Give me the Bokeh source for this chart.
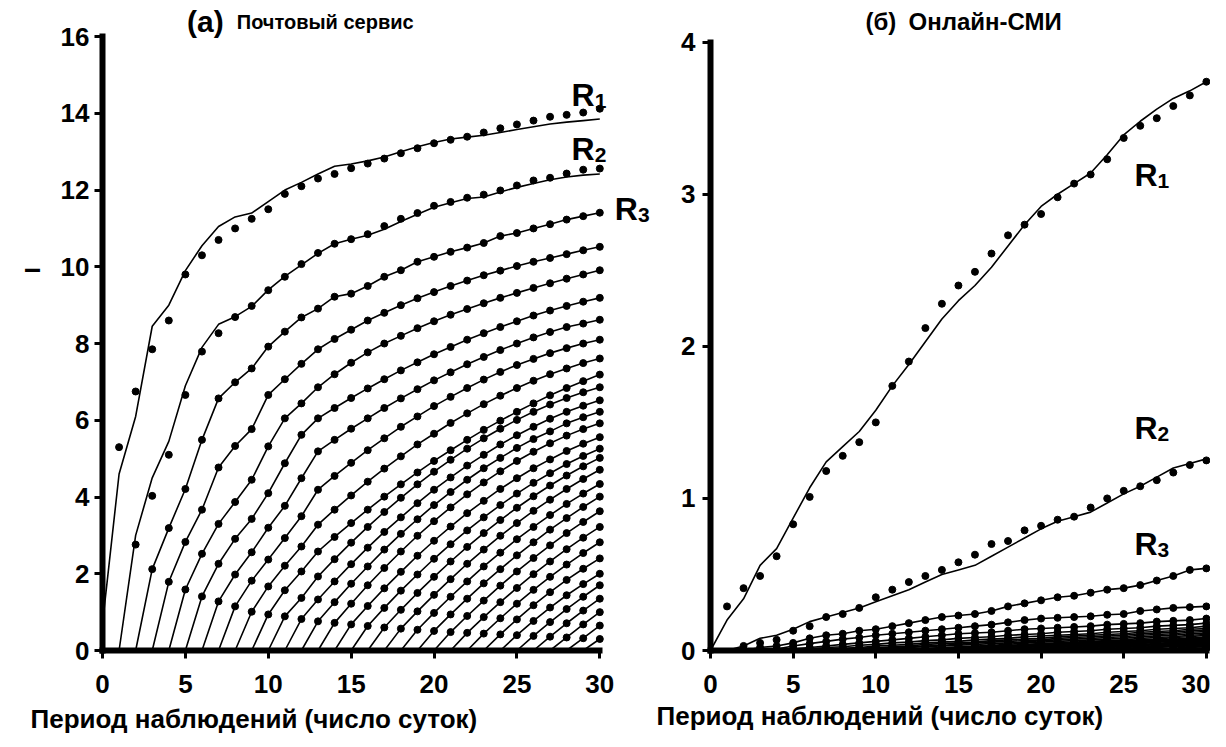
from bokeh.plotting import figure
from bokeh.models import Range1d, FixedTicker, Title
from bokeh.layouts import row
from bokeh.embed import file_html
from bokeh.resources import INLINE
from bokeh.core.properties import value

FONT = "Liberation Sans"

x_ticks = [0, 5, 10, 15, 20, 25, 30]
mail_y_ticks = [0, 2, 4, 6, 8, 10, 12, 14, 16]
media_y_ticks = [0, 1, 2, 3, 4]

# ---------------- (а) Почтовый сервис ----------------
mail_r1_line = [0.7, 4.6, 6.1, 8.45, 9.0, 9.9, 10.55, 11.05, 11.3, 11.4, 11.7, 12.0, 12.2, 12.42, 12.62,
                12.68, 12.76, 12.86, 13.0, 13.13, 13.24, 13.33, 13.38, 13.43, 13.5, 13.58, 13.65, 13.72,
                13.77, 13.81, 13.85]                                   # days 0..30
mail_r1_dots = [5.3, 6.75, 7.85, 8.6, 9.8, 10.3, 10.7, 11.0, 11.25, 11.5, 11.9, 12.1, 12.3, 12.42, 12.57,
                12.69, 12.82, 12.96, 13.09, 13.22, 13.31, 13.39, 13.5, 13.61, 13.71, 13.81, 13.91, 13.96,
                14.02, 14.12]                                          # days 1..30
mail_r2_line = [0, 3.0, 4.5, 5.45, 6.9, 7.9, 8.5, 8.7, 8.97, 9.4, 9.75, 10.05, 10.35, 10.6, 10.72, 10.82,
                10.98, 11.18, 11.37, 11.55, 11.67, 11.78, 11.82, 11.95, 12.07, 12.17, 12.27, 12.34, 12.39,
                12.42]                                                 # days 1..30
mail_r2_dots = [2.76, 4.03, 5.1, 6.66, 7.79, 8.27, 8.69, 8.98, 9.39, 9.74, 10.07, 10.36, 10.6, 10.72, 10.85,
                11.06, 11.25, 11.4, 11.59, 11.69, 11.8, 11.88, 11.99, 12.12, 12.25, 12.32, 12.43, 12.53,
                12.56]                                                 # days 2..30
# R_k (k >= 3): values for days k..30 (model line starts from 0 at day k-1)
mail_r03 = [2.12, 3.19, 4.21, 5.49, 6.57, 6.99, 7.35, 7.92, 8.31, 8.68, 8.91, 9.22, 9.3, 9.5, 9.74, 9.91,
            10.13, 10.26, 10.39, 10.5, 10.62, 10.8, 10.88, 11.0, 11.11, 11.23, 11.32, 11.41]
mail_r04 = [1.79, 2.83, 3.67, 4.77, 5.33, 5.77, 6.66, 7.07, 7.47, 7.85, 8.12, 8.36, 8.6, 8.8, 9.0, 9.18,
            9.34, 9.5, 9.64, 9.78, 9.9, 10.02, 10.13, 10.23, 10.33, 10.43, 10.52]
mail_r05 = [1.59, 2.52, 3.3, 3.87, 4.45, 5.32, 6.05, 6.44, 6.86, 7.2, 7.5, 7.77, 8.0, 8.2, 8.4, 8.58, 8.75,
            8.9, 9.05, 9.19, 9.32, 9.45, 9.57, 9.69, 9.8, 9.91]
mail_r06 = [1.41, 2.26, 2.91, 3.43, 4.1, 4.88, 5.62, 6.05, 6.32, 6.58, 6.83, 7.07, 7.3, 7.51, 7.72, 7.91,
            8.1, 8.27, 8.43, 8.58, 8.73, 8.86, 8.98, 9.09, 9.19]
mail_r07 = [1.28, 1.98, 2.56, 3.2, 3.77, 4.49, 5.19, 5.49, 5.78, 6.05, 6.32, 6.57, 6.81, 7.04, 7.25, 7.46,
            7.65, 7.83, 8.0, 8.16, 8.3, 8.43, 8.52, 8.62]
mail_r08 = [1.15, 1.82, 2.37, 2.93, 3.5, 4.19, 4.55, 4.89, 5.22, 5.53, 5.83, 6.1, 6.37, 6.61, 6.84, 7.06,
            7.26, 7.44, 7.6, 7.75, 7.88, 8.0, 8.1]
mail_r09 = [1.01, 1.67, 2.21, 2.71, 3.28, 3.67, 4.04, 4.4, 4.74, 5.06, 5.37, 5.65, 5.93, 6.18, 6.42, 6.64,
            6.84, 7.03, 7.2, 7.35, 7.49, 7.61]
mail_r10 = [0.94, 1.57, 2.06, 2.58, 2.96, 3.32, 3.67, 4.01, 4.33, 4.64, 4.94, 5.22, 5.49, 5.75, 5.99, 6.22,
            6.44, 6.65, 6.84, 7.02, 7.19]
mail_r11 = [0.89, 1.37, 1.93, 2.38, 2.81, 3.22, 3.61, 3.98, 4.33, 4.66, 4.97, 5.26, 5.53, 5.78, 6.01, 6.22,
            6.41, 6.58, 6.73, 6.86]
mail_r12 = [0.82, 1.33, 1.8, 2.25, 2.68, 3.09, 3.47, 3.84, 4.19, 4.51, 4.82, 5.1, 5.37, 5.61, 5.83, 6.04,
            6.22, 6.38, 6.52]
mail_r13 = [0.76, 1.26, 1.74, 2.19, 2.63, 3.04, 3.42, 3.79, 4.13, 4.45, 4.75, 5.02, 5.28, 5.51, 5.71, 5.92,
            6.08, 6.22]
mail_r14 = [0.72, 1.22, 1.7, 2.15, 2.58, 2.99, 3.37, 3.73, 4.07, 4.38, 4.67, 4.94, 5.18, 5.4, 5.6, 5.77, 5.92]
mail_r15 = [0.68, 1.16, 1.62, 2.05, 2.47, 2.86, 3.23, 3.58, 3.9, 4.21, 4.49, 4.75, 4.98, 5.2, 5.39, 5.56]
mail_r16 = [0.64, 1.11, 1.56, 1.98, 2.39, 2.77, 3.13, 3.47, 3.79, 4.09, 4.37, 4.62, 4.86, 5.07, 5.26]
mail_r17 = [0.6, 1.06, 1.5, 1.92, 2.32, 2.7, 3.06, 3.4, 3.72, 4.02, 4.3, 4.56, 4.8, 5.02]
mail_r18 = [0.57, 1.02, 1.45, 1.86, 2.26, 2.63, 2.99, 3.32, 3.64, 3.93, 4.21, 4.47, 4.71]
mail_r19 = [0.54, 0.98, 1.4, 1.8, 2.19, 2.55, 2.9, 3.22, 3.53, 3.82, 4.09, 4.34]
mail_r20 = [0.51, 0.94, 1.35, 1.75, 2.12, 2.48, 2.82, 3.15, 3.45, 3.74, 4.01]
mail_r21 = [0.48, 0.9, 1.3, 1.69, 2.06, 2.41, 2.74, 3.06, 3.35, 3.63]
mail_r22 = [0.46, 0.87, 1.26, 1.63, 1.99, 2.32, 2.64, 2.94, 3.22]
mail_r23 = [0.44, 0.84, 1.22, 1.58, 1.92, 2.24, 2.54, 2.82]
mail_r24 = [0.42, 0.81, 1.18, 1.52, 1.84, 2.13, 2.4]
mail_r25 = [0.4, 0.77, 1.12, 1.44, 1.73, 2.0]
mail_r26 = [0.38, 0.74, 1.08, 1.4, 1.7]
mail_r27 = [0.36, 0.71, 1.04, 1.35]
mail_r28 = [0.34, 0.68, 1.0]
mail_r29 = [0.32, 0.65]
mail_r30 = [0.3]

# ---------------- (б) Онлайн-СМИ ----------------
media_r1_line = [0, 0.2, 0.34, 0.56, 0.67, 0.87, 1.07, 1.24, 1.34, 1.44, 1.58, 1.74, 1.88, 2.03, 2.18, 2.3,
                 2.4, 2.52, 2.66, 2.8, 2.92, 3.0, 3.07, 3.14, 3.26, 3.39, 3.48, 3.56, 3.63, 3.68, 3.74]
media_r1_dots = [0.29, 0.41, 0.49, 0.62, 0.83, 1.01, 1.18, 1.28, 1.37, 1.5, 1.74, 1.9, 2.12, 2.28, 2.4,
                 2.49, 2.61, 2.73, 2.8, 2.87, 2.98, 3.07, 3.13, 3.23, 3.37, 3.45, 3.5, 3.58, 3.65, 3.74]
media_r2_line = [0, 0.03, 0.08, 0.1, 0.14, 0.19, 0.22, 0.25, 0.28, 0.32, 0.36, 0.4, 0.45, 0.5, 0.53, 0.56,
                 0.62, 0.68, 0.74, 0.8, 0.85, 0.88, 0.91, 0.97, 1.03, 1.08, 1.14, 1.2, 1.23, 1.26]
media_r2_dots = [0.03, 0.05, 0.07, 0.13, 0.16, 0.22, 0.24, 0.28, 0.35, 0.4, 0.45, 0.49, 0.53, 0.58, 0.63,
                 0.7, 0.72, 0.79, 0.82, 0.86, 0.88, 0.94, 1.0, 1.05, 1.08, 1.12, 1.17, 1.22, 1.25]
media_r03 = [0.02, 0.03, 0.05, 0.08, 0.1, 0.11, 0.13, 0.14, 0.16, 0.18, 0.2, 0.22, 0.23, 0.24, 0.26, 0.29,
             0.31, 0.33, 0.35, 0.36, 0.38, 0.4, 0.41, 0.43, 0.46, 0.49, 0.53, 0.54]
media_r04 = [0.01, 0.03, 0.045, 0.06, 0.075, 0.085, 0.1, 0.11, 0.12, 0.13, 0.14, 0.15, 0.16, 0.17, 0.185,
             0.2, 0.21, 0.215, 0.22, 0.225, 0.235, 0.24, 0.26, 0.27, 0.28, 0.285, 0.29]
media_r05 = [0.01, 0.02, 0.03, 0.04, 0.05, 0.06, 0.07, 0.08, 0.09, 0.1, 0.11, 0.115, 0.12, 0.13, 0.14,
             0.145, 0.15, 0.155, 0.16, 0.17, 0.175, 0.18, 0.19, 0.195, 0.2, 0.21]
media_r06 = [0.01, 0.02, 0.025, 0.035, 0.04, 0.05, 0.055, 0.065, 0.07, 0.08, 0.085, 0.09, 0.1, 0.105, 0.11,
             0.12, 0.125, 0.13, 0.14, 0.145, 0.15, 0.16, 0.165, 0.17, 0.18]
media_r07 = [0.01, 0.015, 0.02, 0.03, 0.035, 0.04, 0.05, 0.055, 0.06, 0.07, 0.075, 0.08, 0.09, 0.095, 0.1,
             0.105, 0.11, 0.12, 0.125, 0.13, 0.14, 0.145, 0.15, 0.16]
media_r08 = [0.01, 0.015, 0.02, 0.025, 0.03, 0.04, 0.045, 0.05, 0.055, 0.065, 0.07, 0.075, 0.08, 0.09,
             0.095, 0.1, 0.105, 0.11, 0.12, 0.125, 0.13, 0.14, 0.145]
media_r09 = [0.01, 0.015, 0.02, 0.025, 0.03, 0.035, 0.04, 0.05, 0.055, 0.06, 0.065, 0.07, 0.08, 0.085,
             0.09, 0.095, 0.1, 0.11, 0.115, 0.12, 0.13, 0.135]
media_r10 = [0.01, 0.015, 0.02, 0.025, 0.03, 0.035, 0.04, 0.045, 0.05, 0.055, 0.065, 0.07, 0.075, 0.08,
             0.085, 0.09, 0.1, 0.105, 0.11, 0.12, 0.125]
media_r11 = [0.005, 0.01, 0.015, 0.02, 0.025, 0.03, 0.035, 0.04, 0.05, 0.055, 0.06, 0.065, 0.07, 0.075,
             0.08, 0.09, 0.095, 0.1, 0.11, 0.115]
media_r12 = [0.005, 0.01, 0.015, 0.02, 0.025, 0.03, 0.035, 0.04, 0.045, 0.05, 0.055, 0.06, 0.065, 0.07,
             0.08, 0.085, 0.09, 0.1, 0.105]
media_r13 = [0.005, 0.01, 0.015, 0.02, 0.025, 0.03, 0.035, 0.04, 0.045, 0.05, 0.055, 0.06, 0.065, 0.07,
             0.075, 0.085, 0.09, 0.1]
media_r14 = [0.005, 0.01, 0.015, 0.02, 0.025, 0.03, 0.035, 0.04, 0.045, 0.05, 0.055, 0.06, 0.065, 0.07,
             0.075, 0.08, 0.09]
media_r15 = [0.005, 0.01, 0.015, 0.02, 0.025, 0.03, 0.035, 0.04, 0.045, 0.05, 0.055, 0.06, 0.065, 0.07,
             0.08, 0.085]
media_r16 = [0.005, 0.01, 0.015, 0.02, 0.025, 0.03, 0.035, 0.04, 0.045, 0.05, 0.055, 0.06, 0.07, 0.075, 0.08]
media_r17 = [0.005, 0.01, 0.015, 0.02, 0.025, 0.03, 0.035, 0.04, 0.045, 0.05, 0.06, 0.065, 0.07, 0.075]
media_r18 = [0.005, 0.01, 0.015, 0.02, 0.025, 0.03, 0.035, 0.04, 0.045, 0.055, 0.06, 0.065, 0.07]
media_r19 = [0.005, 0.01, 0.015, 0.02, 0.025, 0.03, 0.035, 0.04, 0.045, 0.055, 0.06, 0.065]
media_r20 = [0.005, 0.01, 0.015, 0.02, 0.025, 0.03, 0.035, 0.045, 0.05, 0.055, 0.06]
media_r21 = [0.005, 0.01, 0.015, 0.02, 0.025, 0.03, 0.04, 0.045, 0.05, 0.055]
media_r22 = [0.005, 0.01, 0.015, 0.02, 0.025, 0.035, 0.04, 0.045, 0.05]
media_r23 = [0.005, 0.01, 0.015, 0.02, 0.03, 0.035, 0.04, 0.045]
media_r24 = [0.005, 0.01, 0.015, 0.025, 0.03, 0.035, 0.04]
media_r25 = [0.005, 0.01, 0.02, 0.025, 0.03, 0.035]
media_r26 = [0.005, 0.01, 0.015, 0.025, 0.03]
media_r27 = [0.005, 0.01, 0.02, 0.025]
media_r28 = [0.005, 0.01, 0.02]
media_r29 = [0.005, 0.015]
media_r30 = [0.01]

mail_rest = [mail_r03, mail_r04, mail_r05, mail_r06, mail_r07, mail_r08, mail_r09, mail_r10, mail_r11,
             mail_r12, mail_r13, mail_r14, mail_r15, mail_r16, mail_r17, mail_r18, mail_r19, mail_r20,
             mail_r21, mail_r22, mail_r23, mail_r24, mail_r25, mail_r26, mail_r27, mail_r28, mail_r29,
             mail_r30]
media_rest = [media_r03, media_r04, media_r05, media_r06, media_r07, media_r08, media_r09, media_r10,
              media_r11, media_r12, media_r13, media_r14, media_r15, media_r16, media_r17, media_r18,
              media_r19, media_r20, media_r21, media_r22, media_r23, media_r24, media_r25, media_r26,
              media_r27, media_r28, media_r29, media_r30]

x_title = "Период наблюдений (число суток)"


def build(r1_line, r1_dots, r2_line, r2_dots, rest):
    lx = [list(range(0, 31)), list(range(1, 31))]
    ly = [r1_line, r2_line]
    dx = list(range(1, 31)) + list(range(2, 31))
    dy = list(r1_dots) + list(r2_dots)
    for i, vals in enumerate(rest):
        k = i + 3
        days = list(range(k, 31))
        lx.append([k - 1] + days)
        ly.append([0] + list(vals))
        dx += days
        dy += list(vals)
    return lx, ly, dx, dy


def style(p, yticks, ystand):
    p.grid.visible = False
    p.outline_line_color = None
    p.background_fill_color = "white"
    p.border_fill_color = "white"
    for ax in (p.xaxis[0], p.yaxis[0]):
        ax.axis_line_width = 6
        ax.axis_line_color = "black"
        ax.axis_line_cap = "square"
        ax.major_tick_line_width = 3
        ax.major_tick_line_color = "black"
        ax.major_tick_out = 8
        ax.major_tick_in = 0
        ax.minor_tick_line_color = None
        ax.major_label_text_font = FONT
        ax.major_label_text_font_style = "bold"
        ax.major_label_text_font_size = "26px"
        ax.major_label_text_color = "black"
    p.xaxis.ticker = FixedTicker(ticks=x_ticks)
    p.xaxis.bounds = (0, 30)
    p.xaxis.major_label_standoff = 16
    p.yaxis.ticker = FixedTicker(ticks=yticks)
    p.yaxis.bounds = (yticks[0], yticks[-1])
    p.yaxis.major_label_standoff = ystand


def txt(p, x, y, s, size, baseline="alphabetic"):
    p.text(x=[x], y=[y], text=[s], text_font=value(FONT), text_font_style="bold",
           text_font_size=size, text_color="black", text_baseline=baseline, text_align="left")


def side_title(p, s, place, offset, standoff, size, align):
    p.add_layout(Title(text=s, align=align, offset=offset, standoff=standoff, text_font=FONT,
                       text_font_style="bold", text_font_size=size, text_color="black"), place)


H = 739
# left panel
p1 = figure(width=654, height=H, x_range=Range1d(0, 33.3), y_range=Range1d(0, 16.94),
            output_backend="svg", toolbar_location=None,
            min_border_left=102, min_border_right=0, min_border_top=0, min_border_bottom=88)
style(p1, mail_y_ticks, 5)
lx, ly, dx, dy = build(mail_r1_line, mail_r1_dots, mail_r2_line, mail_r2_dots, mail_rest)
p1.multi_line(xs=lx, ys=ly, line_color="black", line_width=1.6)
p1.scatter(x=dx, y=dy, size=7, color="black")
txt(p1, 5.1, 16.39, "(а)", "30px", "middle")
txt(p1, 8.1, 16.39, "Почтовый сервис", "20px", "middle")
txt(p1, 28.3, 14.47, "R", "32px")
txt(p1, 29.7, 14.31, "1", "21px")
txt(p1, 28.3, 13.08, "R", "32px")
txt(p1, 29.7, 12.92, "2", "21px")
txt(p1, 30.9, 11.51, "R", "32px")
txt(p1, 32.3, 11.35, "3", "21px")
side_title(p1, x_title, "below", -72, 12, "26px", "left")
side_title(p1, "I", "left", 377, 26, "22px", "left")

# right panel
p2 = figure(width=556, height=H, x_range=Range1d(0, 30.25), y_range=Range1d(0, 4.274),
            output_backend="svg", toolbar_location=None,
            min_border_left=56, min_border_right=0, min_border_top=0, min_border_bottom=83)
style(p2, media_y_ticks, 7)
lx, ly, dx, dy = build(media_r1_line, media_r1_dots, media_r2_line, media_r2_dots, media_rest)
p2.multi_line(xs=lx, ys=ly, line_color="black", line_width=1.6)
p2.scatter(x=dx, y=dy, size=7, color="black")
txt(p2, 9.38, 4.137, "(б)", "24px", "middle")
txt(p2, 11.98, 4.137, "Онлайн-СМИ", "24px", "middle")
txt(p2, 25.65, 3.125, "R", "32px")
txt(p2, 27.04, 3.085, "1", "21px")
txt(p2, 25.65, 1.465, "R", "32px")
txt(p2, 27.04, 1.425, "2", "21px")
txt(p2, 25.65, 0.70, "R", "32px")
txt(p2, 27.04, 0.66, "3", "21px")
side_title(p2, x_title, "below", -54, 7, "26px", "left")

layout = row(p1, p2)
open("out.html", "w").write(file_html(layout, INLINE))
